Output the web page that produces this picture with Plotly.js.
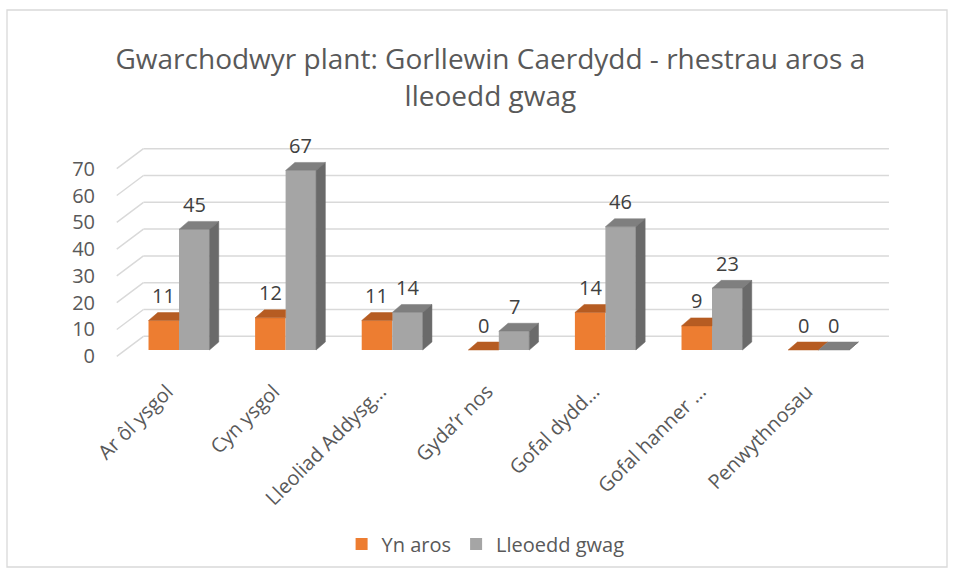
<!DOCTYPE html>
<html>
<head>
<meta charset="utf-8">
<script src="https://cdn.plot.ly/plotly-3.0.1.min.js"></script>
<style>
html,body{margin:0;padding:0;background:#fff;}
#chart{width:956px;height:576px;}
</style>
</head>
<body>
<div id="chart"></div>
<script>
// ---- data ----
const categories = ['Ar ôl ysgol', 'Cyn ysgol', 'Lleoliad Addysg…', 'Gyda’r nos', 'Gofal dydd…', 'Gofal hanner …', 'Penwythnosau'];
const ynAros = [11, 12, 11, 0, 14, 9, 0];
const lleoeddGwag = [45, 67, 14, 7, 46, 23, 0];
const seriesNames = ['Yn aros', 'Lleoedd gwag'];
const yTicks = [0, 10, 20, 30, 40, 50, 60, 70];
const chartTitle = 'Gwarchodwyr plant: Gorllewin Caerdydd - rhestrau aros a<br>lleoedd gwag';

// ---- style / geometry (pseudo-3D projection) ----
const FONT = 'Open Sans, sans-serif';
const orange = {front: '#ED7D31', top: '#B65C22', side: '#A0501C'};
const grey = {front: '#A5A5A5', top: '#7F7F7F', side: '#6A6A6A'};
const BW = 0.286;       // bar width (category units)
const BASE = 2.35;      // bar plane offset (value units)
const BDX = 0.087, BDY = 2.98;   // bar depth
const WDX = 0.2505, WDY = 7.46;  // wall depth
const WXF = -0.584, WXR = 6.66;  // wall front-left, back-right
const FRONT_SHIFT = -0.11;       // category label position on the front plane

const idx = categories.map((c, i) => i);

function pushPoly(arrX, arrY, pts) {
  pts.forEach(p => { arrX.push(p[0]); arrY.push(p[1]); });
  arrX.push(pts[0][0]); arrY.push(pts[0][1]);
  arrX.push(null); arrY.push(null);
}

const oTopX = [], oTopY = [], oSideX = [], oSideY = [];
const gTopX = [], gTopY = [], gSideX = [], gSideY = [];
idx.forEach(i => {
  const v = ynAros[i], g = lleoeddGwag[i];
  const x0 = i - BW, x1 = i, x2 = i + BW;
  const yo = BASE + v, yg = BASE + g;
  const xr = (g >= v + BDY) ? x1 : x1 + BDX;
  pushPoly(oTopX, oTopY, [[x0, yo], [x0 + BDX, yo + BDY], [xr, yo + BDY], [x1, yo]]);
  if (g < v) {
    const lo = Math.max(BASE + g, BASE);
    pushPoly(oSideX, oSideY, [[x1, lo], [x1 + BDX, Math.max(lo, BASE + BDY)], [x1 + BDX, yo + BDY], [x1, yo]]);
  }
  pushPoly(gTopX, gTopY, [[x1, yg], [x1 + BDX, yg + BDY], [x2 + BDX, yg + BDY], [x2, yg]]);
  pushPoly(gSideX, gSideY, [[x2, BASE], [x2 + BDX, BASE + BDY], [x2 + BDX, yg + BDY], [x2, yg]]);
});

function face(xs, ys, col) {
  return {type: 'scatter', x: xs, y: ys, mode: 'lines', fill: 'toself',
    fillcolor: col, line: {color: col, width: 0.5}, hoverinfo: 'skip', showlegend: false};
}

const traces = [
  {type: 'bar', name: seriesNames[0], x: idx, y: ynAros, base: BASE, width: BW, offset: -BW,
   marker: {color: orange.front, line: {width: 0}}, hoverinfo: 'skip'},
  {type: 'bar', name: seriesNames[1], x: idx, y: lleoeddGwag, base: BASE, width: BW, offset: 0,
   marker: {color: grey.front, line: {width: 0}}, hoverinfo: 'skip'},
  face(oTopX, oTopY, orange.top),
  face(oSideX, oSideY, orange.side),
  face(gTopX, gTopY, grey.top),
  face(gSideX, gSideY, grey.side)
];

// gridlines on side and back walls
const shapes = [];
yTicks.forEach(v => {
  const ln = {color: '#D9D9D9', width: 1.5};
  shapes.push({type: 'line', xref: 'x', yref: 'y', layer: 'below', x0: WXF, y0: v, x1: WXF + WDX, y1: v + WDY, line: ln});
  shapes.push({type: 'line', xref: 'x', yref: 'y', layer: 'below', x0: WXF + WDX, y0: v + WDY, x1: WXR, y1: v + WDY, line: ln});
});
// outer chart border
shapes.push({type: 'rect', xref: 'paper', yref: 'paper', layer: 'below',
  x0: -0.11625, x1: 1.05875, y0: -0.7837, y1: 1.4898, line: {color: '#D9D9D9', width: 1.3}, fillcolor: 'rgba(0,0,0,0)'});

// data labels
const annotations = [];
idx.forEach(i => {
  annotations.push({xref: 'x', yref: 'y', x: i - BW / 2, y: BASE + ynAros[i], yshift: 25, text: String(ynAros[i]),
    showarrow: false, font: {family: FONT, size: 20, color: '#404040'}, yanchor: 'middle'});
  annotations.push({xref: 'x', yref: 'y', x: i + BW / 2, y: BASE + lleoeddGwag[i], yshift: 25, text: String(lleoeddGwag[i]),
    showarrow: false, font: {family: FONT, size: 20, color: '#404040'}, yanchor: 'middle'});
});

const layout = {
  width: 956, height: 576,
  margin: {l: 100, r: 56, t: 130, b: 201},
  paper_bgcolor: '#FFFFFF', plot_bgcolor: 'rgba(0,0,0,0)',
  font: {family: FONT, color: '#595959'},
  title: {text: chartTitle, font: {family: FONT, size: 28, color: '#595959'},
    xref: 'paper', x: 0.488, xanchor: 'center', yref: 'container', y: 0.880, yanchor: 'top'},
  barmode: 'overlay',
  showlegend: true,
  legend: {orientation: 'h', x: 0.482, xanchor: 'center', y: -0.69, yanchor: 'middle',
    font: {family: FONT, size: 20, color: '#595959'}, itemwidth: 30, traceorder: 'normal'},
  xaxis: {range: [-0.7411, 6.7636], tickvals: idx.map(i => i + FRONT_SHIFT), ticktext: categories, tickangle: -45,
    showgrid: false, zeroline: false, showline: false, ticks: '',
    tickfont: {family: FONT, size: 20, color: '#595959'}, fixedrange: true},
  yaxis: {range: [-6.98, 84.44], tickvals: yTicks, ticktext: yTicks.map(String),
    showgrid: false, zeroline: false, showline: false, ticks: '', ticklabelstandoff: 4,
    tickfont: {family: FONT, size: 20, color: '#595959'}, fixedrange: true},
  shapes: shapes,
  annotations: annotations
};

Plotly.newPlot('chart', traces, layout, {displayModeBar: false, staticPlot: true});
</script>
</body>
</html>
